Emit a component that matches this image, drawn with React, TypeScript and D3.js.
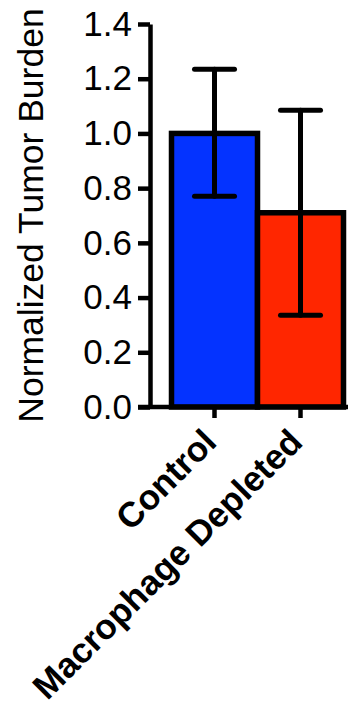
import React, { useRef, useEffect } from 'react';
import * as d3 from 'd3';

const categories = ['Control', 'Macrophage Depleted'];
const means = [1.0, 0.71];
const errLow = [0.77, 0.335];
const errHigh = [1.235, 1.085];
const barColors = ['#0433ff', '#ff2600'];
const yTicks = [0, 0.2, 0.4, 0.6, 0.8, 1.0, 1.2, 1.4];

const W = 348;
const H = 705;
const FONT = "'Liberation Sans', Arial, Helvetica, sans-serif";

const App: React.FC = () => {
    const svgRef = useRef<SVGSVGElement | null>(null);

    useEffect(() => {
        if (!svgRef.current) return;
        const svg = d3.select(svgRef.current);
        svg.selectAll('*').remove();

        const axisX = 150;
        const y = d3.scaleLinear().domain([0, 1.4]).range([407, 24]);
        const x = d3
            .scaleBand()
            .domain(categories)
            .range([171.5, 343.5])
            .padding(0);

        // y axis
        const yAxis = svg
            .append('g')
            .attr('transform', `translate(${axisX},0)`)
            .call(
                d3
                    .axisLeft(y)
                    .tickValues(yTicks)
                    .tickFormat(d3.format('.1f'))
                    .tickSize(12)
                    .tickSizeOuter(0)
                    .tickPadding(6),
            );
        yAxis.select('.domain').attr('stroke', '#000').attr('stroke-width', 4.5);
        yAxis.selectAll('.tick line').attr('stroke', '#000').attr('stroke-width', 4.5);
        yAxis
            .selectAll('.tick text')
            .attr('fill', '#000')
            .style('font-family', FONT)
            .style('font-size', '35px');

        // bars
        svg.selectAll('.bar')
            .data(categories)
            .enter()
            .append('rect')
            .attr('class', 'bar')
            .attr('x', (d) => x(d)!)
            .attr('y', (d, i) => y(means[i]))
            .attr('width', x.bandwidth())
            .attr('height', (d, i) => y(0) - y(means[i]))
            .attr('fill', (d, i) => barColors[i])
            .attr('stroke', '#000')
            .attr('stroke-width', 5.5);

        // x axis
        const xAxis = svg
            .append('g')
            .attr('transform', `translate(0,${y(0)})`)
            .call(d3.axisBottom(x).tickSize(11).tickSizeOuter(0).tickFormat(() => ''));
        xAxis.select('.domain').attr('d', `M${axisX - 12},0H${W}`).attr('stroke', '#000').attr('stroke-width', 4.5);
        xAxis.selectAll('.tick line').attr('stroke', '#000').attr('stroke-width', 4.5);

        // error bars
        const eb = svg.append('g').attr('stroke', '#000').attr('stroke-width', 5).attr('stroke-linecap', 'round');
        categories.forEach((c, i) => {
            const cx = x(c)! + x.bandwidth() / 2;
            eb.append('line').attr('x1', cx).attr('x2', cx).attr('y1', y(errLow[i])).attr('y2', y(errHigh[i]));
            eb.append('line').attr('x1', cx - 20).attr('x2', cx + 20).attr('y1', y(errHigh[i])).attr('y2', y(errHigh[i]));
            eb.append('line').attr('x1', cx - 20).attr('x2', cx + 20).attr('y1', y(errLow[i])).attr('y2', y(errLow[i]));
        });

        // category labels
        categories.forEach((c) => {
            const cx = x(c)! + x.bandwidth() / 2;
            svg.append('text')
                .attr('transform', `translate(${cx + 4},${444}) rotate(-45)`)
                .attr('text-anchor', 'end')
                .style('font-family', FONT)
                .style('font-size', '35px')
                .style('font-weight', 'bold')
                .text(c);
        });

        // y title
        svg.append('text')
            .attr('transform', `translate(43,${215.5}) rotate(-90)`)
            .attr('text-anchor', 'middle')
            .style('font-family', FONT)
            .style('font-size', '35.5px')
            .text('Normalized Tumor Burden');
    }, []);

    return (
        <svg
            ref={svgRef}
            width={W}
            height={H}
            style={{ position: 'fixed', left: 0, top: 0, background: '#fff' }}
        ></svg>
    );
};

export default App;
